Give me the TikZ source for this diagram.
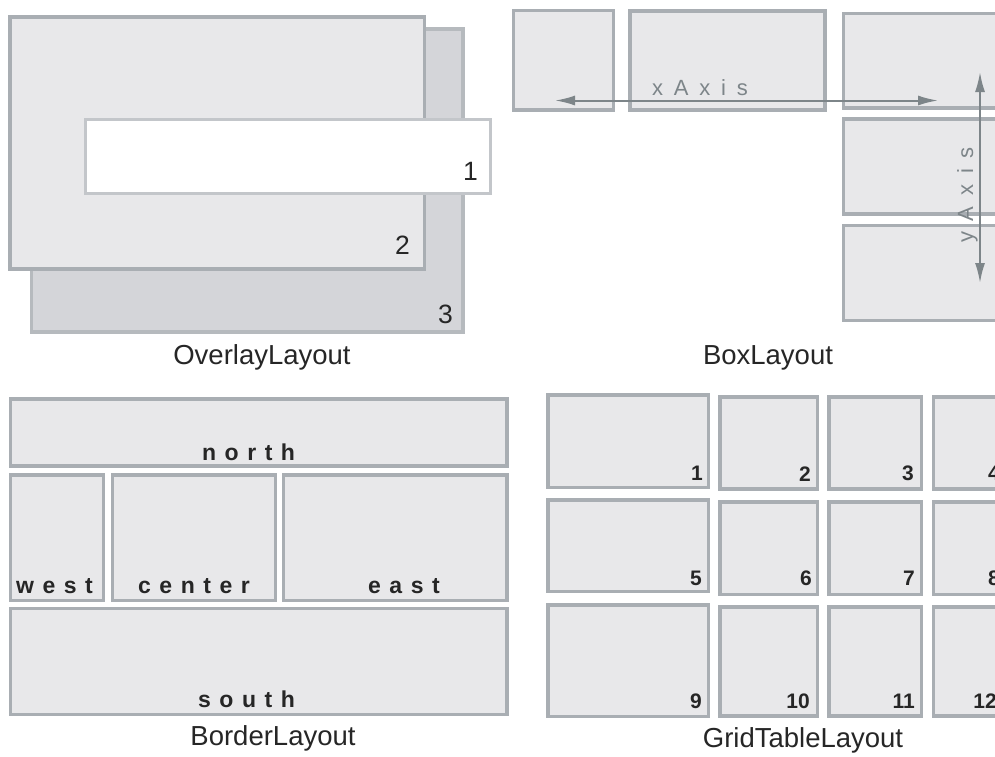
\documentclass[tikz,border=0pt]{standalone}
\usepackage{fontspec}
\setmainfont{Liberation Sans}
\usetikzlibrary{arrows.meta}

\definecolor{panelfill}{HTML}{E8E8EA}
\definecolor{backfill}{HTML}{D4D5D9}
\definecolor{edge}{HTML}{A9AEB3}
\definecolor{softedge}{HTML}{C3C6CA}
\definecolor{axiscol}{HTML}{7D8589}
\definecolor{ink}{HTML}{262626}

\tikzset{
  panel/.style={rectangle, draw=edge, fill=panelfill, line width=3.5pt,
    inner sep=0pt, outer sep=0pt},
  backpanel/.style={fill=backfill, draw=edge!85},
  toppanel/.style={fill=white, draw=softedge, line width=3pt},
  caption/.style={font=\fontsize{27.5}{30}\selectfont, text=ink,
    inner sep=0pt, anchor=base},
  spaced/.style={font=\fontsize{23}{26}\selectfont\bfseries\addfontfeature{LetterSpace=37},
    text=ink, inner sep=0pt, anchor=base west},
  axislabel/.style={font=\fontsize{22}{25}\selectfont\addfontfeature{LetterSpace=49},
    text=axiscol, inner sep=0pt, anchor=base west},
  bignum/.style={font=\fontsize{26.5}{29}\selectfont, text=ink,
    inner sep=0pt, anchor=base east},
  cellnum/.style={font=\fontsize{21}{24}\selectfont\bfseries, text=ink,
    inner sep=0pt, anchor=base east},
  axisline/.style={draw=axiscol, line width=2pt,
    {Latex[length=20pt,width=10pt]}-{Latex[length=20pt,width=10pt]}}
}

% \pbox[style]{name}{x1}{y1}{x2}{y2}: a panel between two corners (line centres)
\newcommand\pbox[6][]{%
  \node[panel,#1,anchor=north west,
        minimum width={(#5-#3)*1pt},minimum height={(#6-#4)*1pt}]
        (#2) at (#3,#4) {};}

\begin{document}
\begin{tikzpicture}[x=1pt,y=-1pt]
\clip (0,0) rectangle (995,756);
\fill[white] (0,0) rectangle (995,756);

% ---------------- OverlayLayout ----------------
\pbox[backpanel]{ov3}{31.5}{29}{463}{332}
\pbox{ov2}{10}{17}{424.5}{269}
\pbox[toppanel]{ov1}{85}{119.5}{490}{193.5}
\node[bignum] (n1) at (478,180) {1};
\node[bignum] (n2) at (410,254) {2};
\node[bignum] (n3) at (453,323) {3};
\node[caption] (capov) at (262,364) {OverlayLayout};

% ---------------- BoxLayout ----------------
\pbox{bxa}{513.5}{10.5}{613.5}{110}
\pbox[line width=4pt]{bxb}{629.5}{10.5}{825}{109.5}
\pbox{bxc}{843.5}{13.5}{1010}{108}
\pbox{bxd}{843.5}{119}{1010}{214}
\pbox{bxe}{843.5}{225.5}{1010}{320.5}
\coordinate (xl) at (555,100.5);
\coordinate (xr) at (938,100.5);
\draw[axisline] (xl) -- (xr);
\coordinate (yt) at (980,72);
\coordinate (yb) at (980,283);
\draw[axisline] (yt) -- (yb);
\node[axislabel] (xlab) at (652,95) {xAxis};
\node[axislabel, rotate=90] (ylab) at (973,243) {yAxis};
\node[caption] (capbox) at (768,364) {BoxLayout};

% ---------------- BorderLayout ----------------
\pbox{north}{10.5}{399}{507}{466}
\pbox{west}{10.5}{475}{103.5}{600.5}
\pbox{center}{112.5}{475}{275.5}{600.5}
\pbox{east}{283.5}{475}{507}{600.5}
\pbox{south}{10.5}{608.5}{507}{714.5}
\node[spaced] (tn) at (202,460) {north};
\node[spaced] (tw) at (16,593) {west};
\node[spaced] (tc) at (138,593) {center};
\node[spaced] (te) at (368,593) {east};
\node[spaced] (ts) at (198,707) {south};
\node[caption] (capbd) at (273,745) {BorderLayout};

% ---------------- GridTableLayout ----------------
\pbox{g1}{548}{395}{708.5}{487.5}
\pbox{g2}{720}{397}{817.5}{489}
\pbox{g3}{829}{397}{921.5}{489}
\pbox{g4}{933.5}{397}{1008}{489}
\pbox{g5}{548}{500}{708.5}{591.5}
\pbox{g6}{720}{502}{817.5}{594.5}
\pbox{g7}{829}{502}{921.5}{594.5}
\pbox{g8}{933.5}{502}{1008}{594.5}
\pbox{g9}{548}{605}{708.5}{716.5}
\pbox{g10}{720}{607}{817.5}{716}
\pbox{g11}{829}{607}{921.5}{716}
\pbox{g12}{933.5}{607}{1008}{716}
\node[cellnum] (c1) at (703,480) {1};
\node[cellnum] (c2) at (811,481) {2};
\node[cellnum] (c3) at (914,480) {3};
\node[cellnum] (c4) at (1000,480) {4};
\node[cellnum] (c5) at (702,585) {5};
\node[cellnum] (c6) at (812,585) {6};
\node[cellnum] (c7) at (915,585) {7};
\node[cellnum] (c8) at (1000,585) {8};
\node[cellnum] (c9) at (702,708) {9};
\node[cellnum] (c10) at (810,708) {10};
\node[cellnum] (c11) at (915,708) {11};
\node[cellnum] (c12) at (997,708) {12};
\node[caption] (capgr) at (803,747) {GridTableLayout};
\end{tikzpicture}
\end{document}
